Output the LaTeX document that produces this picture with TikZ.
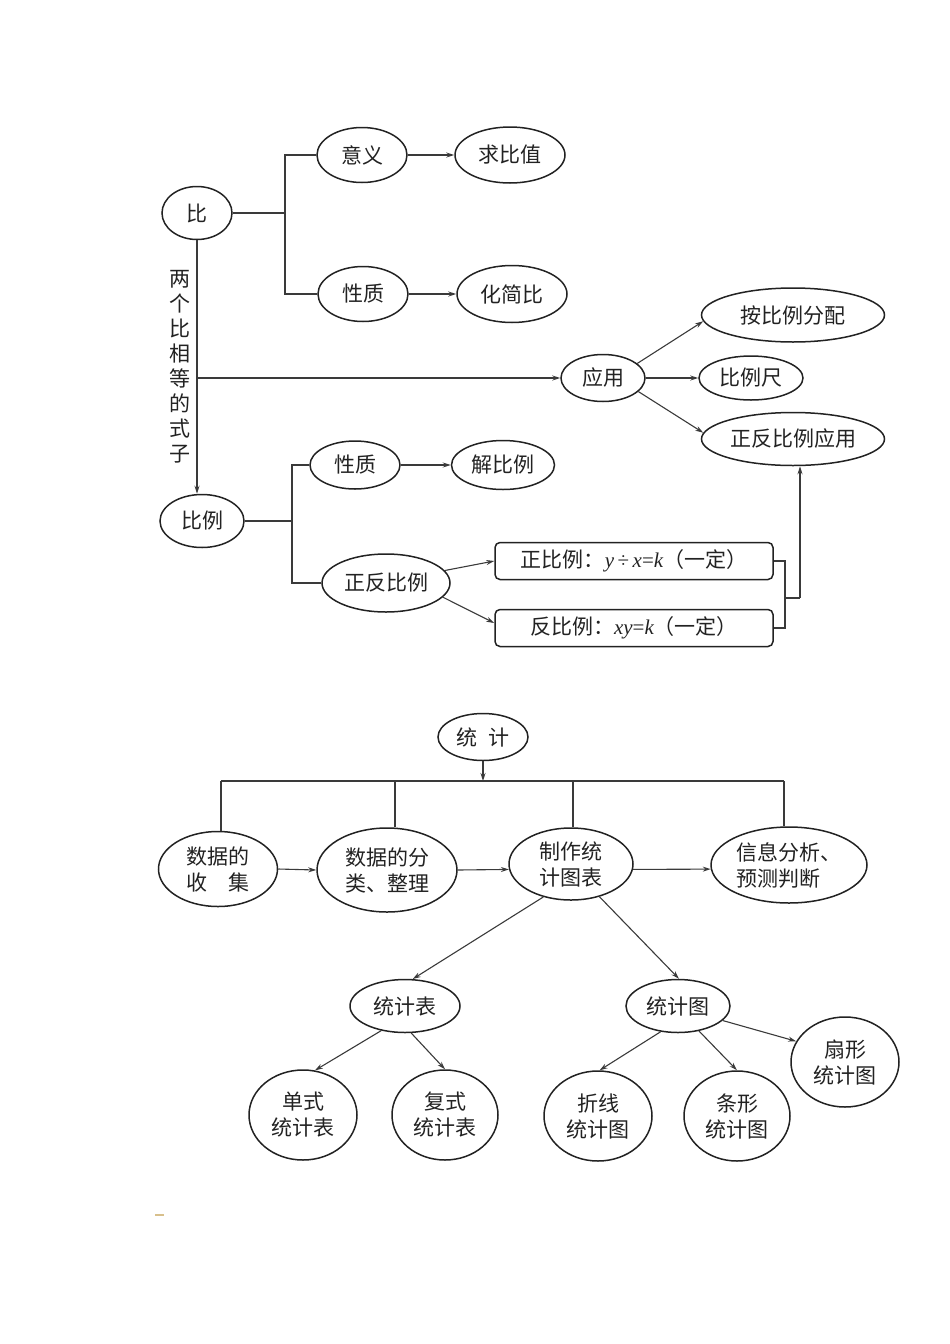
\documentclass[tikz,border=0pt]{standalone}
\usepackage{fontspec}
\newfontfamily\cjk{Noto Sans CJK SC}
\newfontfamily\tms{Liberation Serif}
\usetikzlibrary{shapes.geometric,arrows.meta}
\definecolor{ink}{HTML}{222222}
\definecolor{lnc}{HTML}{3A3A3A}
\definecolor{dashc}{HTML}{D8C08C}
\newcommand{\mi}[1]{{\tms\itshape #1}}
\tikzset{
  ell/.style={ellipse,draw=ink,line width=1.5pt,inner sep=0pt,text=ink,font=\cjk\fontsize{21}{26}\selectfont,align=center},
  rbox/.style={rectangle,rounded corners=5pt,draw=ink,line width=1.5pt,inner sep=0pt,text=ink,font=\cjk\fontsize{21}{26}\selectfont,minimum width=278pt,minimum height=37pt},
  ln/.style={draw=lnc,line width=1.1pt},
  arr/.style={ln,-{Stealth[length=8pt,width=5pt]}},
  vtext/.style={text=ink,font=\cjk\fontsize{21}{25}\selectfont,align=center,inner sep=0pt}
}
\begin{document}
\begin{tikzpicture}[x=1pt,y=-1pt]
\useasboundingbox (0,0) rectangle (950,1344);
% ---------- top diagram ----------
\node[ell,minimum width=70pt,minimum height=53pt] (bi) at (197,213) {比};
\node[ell,minimum width=90pt,minimum height=55pt] (yiyi) at (362,155) {意义};
\node[ell,minimum width=110pt,minimum height=56pt] (qbz) at (510,155) {求比值};
\node[ell,minimum width=90pt,minimum height=55pt] (xz1) at (363,294) {性质};
\node[ell,minimum width=110pt,minimum height=57pt] (hjb) at (512,294) {化简比};
\node[ell,minimum width=84pt,minimum height=47pt] (yy) at (603,378) {应用};
\node[ell,minimum width=183pt,minimum height=54pt] (abl) at (793,315) {按比例分配};
\node[ell,minimum width=104pt,minimum height=44pt] (blc) at (751,378) {比例尺};
\node[ell,minimum width=183pt,minimum height=53pt] (zfyy) at (793,439) {正反比例应用};
\node[ell,minimum width=84pt,minimum height=53pt] (bl) at (202,521) {比例};
\node[ell,minimum width=90pt,minimum height=48pt] (xz2) at (355,465) {性质};
\node[ell,minimum width=103pt,minimum height=49pt] (jbl) at (503,465) {解比例};
\node[ell,minimum width=128pt,minimum height=58pt] (zfbl) at (386,583) {正反比例};
\node[rbox] (zbl) at (634,561) {正比例：\mi{y}\,{\tms ÷}\,\mi{x}{\tms =}\mi{k}（一定）};
\node[rbox] (fbl) at (634,628) {反比例：\mi{xy}{\tms =}\mi{k}（一定）};
\node[vtext] (vt) at (180,367) {两\\个\\比\\相\\等\\的\\式\\子};

\coordinate (bj) at (285,213);
\draw[ln] (bi.east) -- (bj);
\draw[ln] (yiyi.west) -| (bj);
\draw[ln] (xz1.west) -| (bj);
\draw[arr] (yiyi.east) -- (qbz.west);
\draw[arr] (xz1.east) -- (hjb.west);
\draw[arr] (bi.south) -- (bi.south |- bl.north);
\coordinate (vj) at (bi.south |- yy.west);
\draw[arr] (vj) -- (yy.west);
\draw[arr] (yy.23) -- (abl.184);
\draw[arr] (yy.east) -- (blc.west);
\draw[arr] (yy.339) -- (zfyy.176);
\coordinate (bj2) at (292,521);
\draw[ln] (bl.east) -- (bj2);
\draw[ln] (xz2.west) -| (bj2);
\draw[ln] (zfbl.west) -| (bj2);
\draw[arr] (xz2.east) -- (jbl.west);
\draw[arr] (zfbl.12) -- (zbl.west);
\draw[arr] (zfbl.346) -- ([yshift=5pt]fbl.west);
\coordinate (rb) at (785,598);
\coordinate (rb2) at (800,598);
\draw[ln] (zbl.east) -| (rb);
\draw[ln] (fbl.east) -| (rb);
\draw[ln] (rb) -- (rb2);
\draw[arr] (rb2) -- (rb2 |- zfyy.south);

% ---------- bottom diagram ----------
\node[ell,minimum width=90pt,minimum height=47pt] (tj) at (483,737) {统\hspace{0.5em}计};
\node[ell,minimum width=119pt,minimum height=75pt] (sj1) at (218,869) {数据的\\收　集};
\node[ell,minimum width=140pt,minimum height=84pt] (sj2) at (387,870) {数据的分\\类、整理};
\node[ell,minimum width=124pt,minimum height=72pt] (zz) at (571,864) {制作统\\计图表};
\node[ell,minimum width=156pt,minimum height=76pt,align=left] (xx) at (789,865) {信息分析、\\预测判断};
\node[ell,minimum width=110pt,minimum height=53pt] (tjb) at (405,1006) {统计表};
\node[ell,minimum width=104pt,minimum height=53pt] (tjt) at (678,1006) {统计图};
\node[ell,minimum width=108pt,minimum height=90pt] (dsb) at (303,1115) {单式\\统计表};
\node[ell,minimum width=106pt,minimum height=90pt] (fsb) at (445,1115) {复式\\统计表};
\node[ell,minimum width=108pt,minimum height=90pt] (zxt) at (598,1116) {折线\\统计图};
\node[ell,minimum width=106pt,minimum height=90pt] (txt) at (737,1116) {条形\\统计图};
\node[ell,minimum width=108pt,minimum height=90pt] (sxt) at (845,1062) {扇形\\统计图};

\coordinate (bar) at (tj.south |- 0,781);
\coordinate (b1) at (221,781);
\coordinate (b2) at (395,781);
\coordinate (b3) at (573,781);
\coordinate (b4) at (784,781);
\draw[arr] (tj.south) -- (bar);
\draw[ln] (b1) -- (b4);
\draw[ln] (b1) -- (b1 |- sj1.north);
\draw[ln] (b2) -- (b2 |- sj2.north);
\draw[ln] (b3) -- (b3 |- zz.north);
\draw[ln] (b4) -- (b4 |- xx.north);
\draw[arr] (sj1.east) -- (sj2.west);
\draw[arr] (sj2.east) -- (zz.185);
\draw[arr] (zz.-5) -- (xx.183);
\draw[arr] (zz.230) -- (tjb.74);
\draw[arr] (zz.311) -- (tjt.88);
\draw[arr] (tjb.226) -- (dsb.75);
\draw[arr] (tjb.283) -- (fsb.90);
\draw[arr] (tjt.236) -- (zxt.88);
\draw[arr] (tjt.310) -- (txt.90);
\draw[arr] (tjt.342) -- (sxt.157);

% small mark
\draw[dashc,line width=2pt] (155,1215) -- (164,1215);
\end{tikzpicture}
\end{document}
